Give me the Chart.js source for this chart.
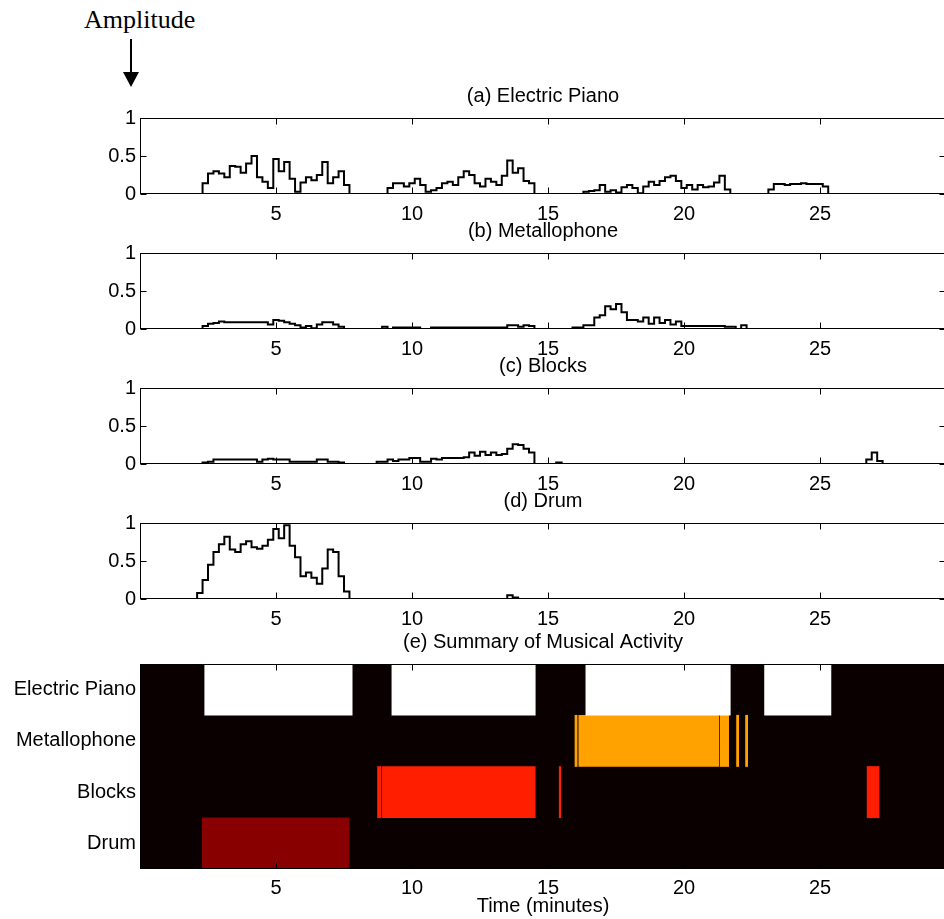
<!DOCTYPE html>
<html>
<head>
<meta charset="utf-8">
<script src="https://cdn.jsdelivr.net/npm/chart.js@4.4.1/dist/chart.umd.min.js"></script>
<style>
  html, body { margin: 0; padding: 0; background: #fff; overflow: hidden; width: 944px; height: 919px; }
  .panel { position: absolute; left: 0; }
  #amp { position: absolute; left: 84px; top: 5px; font: 26px 'Liberation Serif', 'Times New Roman', serif; color: #000; line-height: 29px; white-space: nowrap; }
  #shaft { position: absolute; left: 130px; top: 39px; width: 2px; height: 34px; background: #000; }
  #head { position: absolute; left: 123px; top: 72px; width: 0; height: 0;
          border-left: 8px solid transparent; border-right: 8px solid transparent; border-top: 15px solid #000; }
</style>
</head>
<body>
<div id="amp">Amplitude</div>
<div id="shaft"></div>
<div id="head"></div>
<canvas id="pianoChart" class="panel" width="1086" height="140" style="top:84px"></canvas>
<canvas id="metalloChart" class="panel" width="1086" height="140" style="top:219px"></canvas>
<canvas id="blocksChart" class="panel" width="1086" height="140" style="top:354px"></canvas>
<canvas id="drumChart" class="panel" width="1086" height="140" style="top:489px"></canvas>
<canvas id="summaryChart" class="panel" width="1086" height="289" style="top:630px"></canvas>
<script>
// Sample times (minutes)
const minutes = [
  0, 0.2, 0.4, 0.6, 0.8, 1, 1.2, 1.4, 1.6, 1.8,
  2, 2.2, 2.4, 2.6, 2.8, 3, 3.2, 3.4, 3.6, 3.8,
  4, 4.2, 4.4, 4.6, 4.8, 5, 5.2, 5.4, 5.6, 5.8,
  6, 6.2, 6.4, 6.6, 6.8, 7, 7.2, 7.4, 7.6, 7.8,
  8, 8.2, 8.4, 8.6, 8.8, 9, 9.2, 9.4, 9.6, 9.8,
  10, 10.2, 10.4, 10.6, 10.8, 11, 11.2, 11.4, 11.6, 11.8,
  12, 12.2, 12.4, 12.6, 12.8, 13, 13.2, 13.4, 13.6, 13.8,
  14, 14.2, 14.4, 14.6, 14.8, 15, 15.2, 15.4, 15.6, 15.8,
  16, 16.2, 16.4, 16.6, 16.8, 17, 17.2, 17.4, 17.6, 17.8,
  18, 18.2, 18.4, 18.6, 18.8, 19, 19.2, 19.4, 19.6, 19.8,
  20, 20.2, 20.4, 20.6, 20.8, 21, 21.2, 21.4, 21.6, 21.8,
  22, 22.2, 22.4, 22.6, 22.8, 23, 23.2, 23.4, 23.6, 23.8,
  24, 24.2, 24.4, 24.6, 24.8, 25, 25.2, 25.4, 25.6, 25.8,
  26, 26.2, 26.4, 26.6, 26.8, 27, 27.2, 27.4, 27.6, 27.8,
  28, 28.2, 28.4, 28.6, 28.8, 29, 29.2, 29.4, 29.6
];

// Amplitude per instrument, one value per sample time
const electricPiano = [
  0, 0, 0, 0, 0, 0, 0, 0, 0, 0,
  0, 0, 0.14, 0.27, 0.30, 0.27, 0.22, 0.37, 0.36, 0.28,
  0.40, 0.50, 0.22, 0.16, 0.08, 0.46, 0.30, 0.42, 0.20, 0.03,
  0.15, 0.22, 0.18, 0.25, 0.42, 0.14, 0.22, 0.30, 0.12, 0,
  0, 0, 0, 0, 0, 0, 0.08, 0.14, 0.14, 0.10,
  0.14, 0.20, 0.12, 0.03, 0.05, 0.08, 0.14, 0.16, 0.12, 0.22,
  0.30, 0.25, 0.14, 0.10, 0.20, 0.16, 0.12, 0.24, 0.44, 0.28,
  0.34, 0.17, 0.14, 0, 0, 0, 0, 0, 0, 0,
  0, 0, 0.03, 0.04, 0.05, 0.12, 0.03, 0.05, 0.02, 0.09,
  0.12, 0.08, 0.01, 0.10, 0.16, 0.12, 0.17, 0.22, 0.24, 0.17,
  0.08, 0.12, 0.06, 0.12, 0.09, 0.10, 0.15, 0.24, 0.06, 0,
  0, 0, 0, 0, 0, 0, 0.06, 0.13, 0.13, 0.12,
  0.13, 0.13, 0.14, 0.13, 0.13, 0.13, 0.10, 0, 0, 0,
  0, 0, 0, 0, 0, 0, 0, 0, 0, 0,
  0, 0, 0, 0, 0, 0, 0, 0, 0
];
const metallophone = [
  0, 0, 0, 0, 0, 0, 0, 0, 0, 0,
  0, 0, 0.04, 0.07, 0.08, 0.10, 0.09, 0.09, 0.09, 0.09,
  0.09, 0.09, 0.09, 0.09, 0.06, 0.12, 0.11, 0.09, 0.07, 0.05,
  0.02, 0.04, 0.01, 0.06, 0.09, 0.09, 0.06, 0.03, 0, 0,
  0, 0, 0, 0, 0, 0.03, 0, 0.02, 0.02, 0.02,
  0.02, 0.02, 0, 0, 0.02, 0.02, 0.02, 0.02, 0.02, 0.02,
  0.02, 0.02, 0.02, 0.02, 0.02, 0.02, 0.02, 0.02, 0.05, 0.05,
  0.03, 0.05, 0.04, 0, 0, 0, 0, 0, 0, 0,
  0.02, 0.02, 0.05, 0.05, 0.15, 0.18, 0.30, 0.26, 0.33, 0.22,
  0.12, 0.12, 0.10, 0.15, 0.07, 0.15, 0.08, 0.12, 0.06, 0.10,
  0.04, 0.04, 0.04, 0.04, 0.04, 0.04, 0.04, 0.04, 0.03, 0.03,
  0, 0.05, 0, 0, 0, 0, 0, 0, 0, 0,
  0, 0, 0, 0, 0, 0, 0, 0, 0, 0,
  0, 0, 0, 0, 0, 0, 0, 0, 0, 0,
  0, 0, 0, 0, 0, 0, 0, 0, 0
];
const blocks = [
  0, 0, 0, 0, 0, 0, 0, 0, 0, 0,
  0, 0, 0.02, 0.03, 0.06, 0.06, 0.06, 0.06, 0.06, 0.06,
  0.06, 0.06, 0.03, 0.06, 0.07, 0.06, 0.06, 0.06, 0.03, 0.03,
  0.03, 0.03, 0.03, 0.06, 0.06, 0.03, 0.03, 0.02, 0, 0,
  0, 0, 0, 0, 0.03, 0.03, 0.06, 0.04, 0.06, 0.06,
  0.08, 0.08, 0.03, 0.03, 0.07, 0.06, 0.08, 0.08, 0.08, 0.08,
  0.09, 0.15, 0.11, 0.16, 0.12, 0.15, 0.12, 0.13, 0.20, 0.26,
  0.25, 0.20, 0.15, 0, 0, 0, 0, 0.02, 0, 0,
  0, 0, 0, 0, 0, 0, 0, 0, 0, 0,
  0, 0, 0, 0, 0, 0, 0, 0, 0, 0,
  0, 0, 0, 0, 0, 0, 0, 0, 0, 0,
  0, 0, 0, 0, 0, 0, 0, 0, 0, 0,
  0, 0, 0, 0, 0, 0, 0, 0, 0, 0,
  0, 0, 0, 0, 0.06, 0.15, 0.04, 0, 0, 0,
  0, 0, 0, 0, 0, 0, 0, 0, 0
];
const drum = [
  0, 0, 0, 0, 0, 0, 0, 0, 0, 0,
  0, 0.08, 0.25, 0.45, 0.62, 0.72, 0.82, 0.65, 0.62, 0.72,
  0.76, 0.68, 0.66, 0.70, 0.78, 0.92, 0.80, 0.97, 0.70, 0.55,
  0.30, 0.35, 0.28, 0.20, 0.40, 0.65, 0.62, 0.30, 0.10, 0,
  0, 0, 0, 0, 0, 0, 0, 0, 0, 0,
  0, 0, 0, 0, 0, 0, 0, 0, 0, 0,
  0, 0, 0, 0, 0, 0, 0, 0, 0.05, 0.02,
  0, 0, 0, 0, 0, 0, 0, 0, 0, 0,
  0, 0, 0, 0, 0, 0, 0, 0, 0, 0,
  0, 0, 0, 0, 0, 0, 0, 0, 0, 0,
  0, 0, 0, 0, 0, 0, 0, 0, 0, 0,
  0, 0, 0, 0, 0, 0, 0, 0, 0, 0,
  0, 0, 0, 0, 0, 0, 0, 0, 0, 0,
  0, 0, 0, 0, 0, 0, 0, 0, 0, 0,
  0, 0, 0, 0, 0, 0, 0, 0, 0
];

// Activity intervals [start, end] in minutes for the summary panel
const instruments = ['Electric Piano', 'Metallophone', 'Blocks', 'Drum'];
const pianoSegments = [[2.38, 7.80], [9.26, 14.53], [16.39, 21.70], [22.96, 25.40]];
const metalloSegments = [[15.99, 16.07], [16.13, 21.28], [21.33, 21.64], [21.93, 22.01], [22.26, 22.34]];
const blocksSegments = [[8.73, 8.86], [8.91, 14.53], [15.41, 15.47], [26.73, 27.17]];
const drumSegments = [[2.29, 7.69]];

// Axis ticks
const timeTicks = [5, 10, 15, 20, 25];
const amplitudeTicks = [0, 0.5, 1];
const xMax = 29.63;

Chart.defaults.font.family = "'Liberation Sans', Arial, Helvetica, sans-serif";
Chart.defaults.font.size = 20;
Chart.defaults.color = '#000';

// Box around each plot with short inward tick marks on all four sides
const framePlugin = {
  id: 'frame',
  beforeDatasetsDraw(chart, args, opts) {
    if (!opts.background) return;
    const { ctx, chartArea: a } = chart;
    ctx.save();
    ctx.fillStyle = opts.background;
    ctx.fillRect(a.left, a.top, a.right - a.left, a.bottom - a.top);
    ctx.restore();
  },
  afterDatasetsDraw(chart, args, opts) {
    const { ctx, chartArea: a, scales } = chart;
    const len = 6;
    const left = Math.round(a.left) + 0.5, right = Math.round(a.right) - 0.5;
    const top = Math.round(a.top) + 0.5, bottom = Math.round(a.bottom) - 0.5;
    ctx.save();
    ctx.strokeStyle = '#000';
    ctx.lineWidth = 1;
    ctx.beginPath();
    timeTicks.forEach(v => {
      const px = Math.round(scales.x.getPixelForValue(v)) + 0.5;
      ctx.moveTo(px, top); ctx.lineTo(px, top + len);
      ctx.moveTo(px, bottom); ctx.lineTo(px, bottom - len);
    });
    (opts.yTicks || []).forEach(v => {
      const py = Math.round(scales.y.getPixelForValue(v)) + 0.5;
      ctx.moveTo(left, py); ctx.lineTo(left + len, py);
      ctx.moveTo(right, py); ctx.lineTo(right - len, py);
    });
    ctx.stroke();
    ctx.strokeRect(left, top, right - left, bottom - top);
    ctx.restore();
  }
};

const noGrid = { display: false, drawTicks: false, tickLength: 0 };

function timeAxis(height, padding) {
  return {
    type: 'linear', min: 0, max: xMax,
    grid: noGrid, border: { display: false },
    afterBuildTicks: s => { s.ticks = timeTicks.map(v => ({ value: v })); },
    afterFit: s => { s.height = height; },
    ticks: { color: '#000', padding: padding, maxRotation: 0, autoSkip: false,
             callback: v => String(v) }
  };
}

function amplitudeChart(id, title, values) {
  return new Chart(document.getElementById(id), {
    type: 'line',
    data: {
      datasets: [{
        data: minutes.map((t, i) => ({ x: t, y: values[i] })),
        borderColor: '#000', borderWidth: 2, pointRadius: 0,
        stepped: 'middle', fill: false
      }]
    },
    options: {
      responsive: false, animation: false, events: [],
      layout: { padding: { left: 0, right: 140, top: 0, bottom: 0 } },
      plugins: {
        legend: { display: false }, tooltip: { enabled: false },
        title: { display: true, text: title, color: '#000', fullSize: false,
                 font: { size: 20, weight: 'normal' }, padding: { top: 0, bottom: 10 } },
        frame: { yTicks: amplitudeTicks }
      },
      scales: {
        x: timeAxis(30, 8.5),
        y: {
          min: 0, max: 1,
          grid: noGrid, border: { display: false },
          afterBuildTicks: s => { s.ticks = amplitudeTicks.map(v => ({ value: v })); },
          afterFit: s => { s.width = 140; },
          ticks: { color: '#000', padding: 4, callback: v => String(v) }
        }
      }
    },
    plugins: [framePlugin]
  });
}

amplitudeChart('pianoChart', '(a) Electric Piano', electricPiano);
amplitudeChart('metalloChart', '(b) Metallophone', metallophone);
amplitudeChart('blocksChart', '(c) Blocks', blocks);
amplitudeChart('drumChart', '(d) Drum', drum);

function segmentData(segments, name) {
  return segments.map(s => ({ x: s, y: name }));
}

const summaryX = timeAxis(50, 7);
summaryX.title = { display: true, text: 'Time (minutes)', color: '#000',
                   font: { size: 20 }, padding: { top: 0, bottom: 1 } };

new Chart(document.getElementById('summaryChart'), {
  type: 'bar',
  data: {
    labels: instruments,
    datasets: [
      { data: segmentData(pianoSegments, 'Electric Piano'), backgroundColor: '#ffffff' },
      { data: segmentData(metalloSegments, 'Metallophone'), backgroundColor: '#ffa200' },
      { data: segmentData(blocksSegments, 'Blocks'), backgroundColor: '#ff1e00' },
      { data: segmentData(drumSegments, 'Drum'), backgroundColor: '#880000' }
    ]
  },
  options: {
    indexAxis: 'y',
    responsive: false, animation: false, events: [],
    layout: { padding: { left: 0, right: 140, top: 0, bottom: 0 } },
    datasets: { bar: { barPercentage: 1, categoryPercentage: 1, grouped: false, borderWidth: 0 } },
    plugins: {
      legend: { display: false }, tooltip: { enabled: false },
      title: { display: true, text: '(e) Summary of Musical Activity', color: '#000', fullSize: false,
               font: { size: 20, weight: 'normal' }, padding: { top: 0, bottom: 10 } },
      frame: { background: '#0a0000' }
    },
    scales: {
      x: summaryX,
      y: {
        type: 'category',
        grid: noGrid, border: { display: false },
        afterFit: s => { s.width = 140; },
        ticks: { color: '#000', padding: 4 }
      }
    }
  },
  plugins: [framePlugin]
});
</script>
</body>
</html>
